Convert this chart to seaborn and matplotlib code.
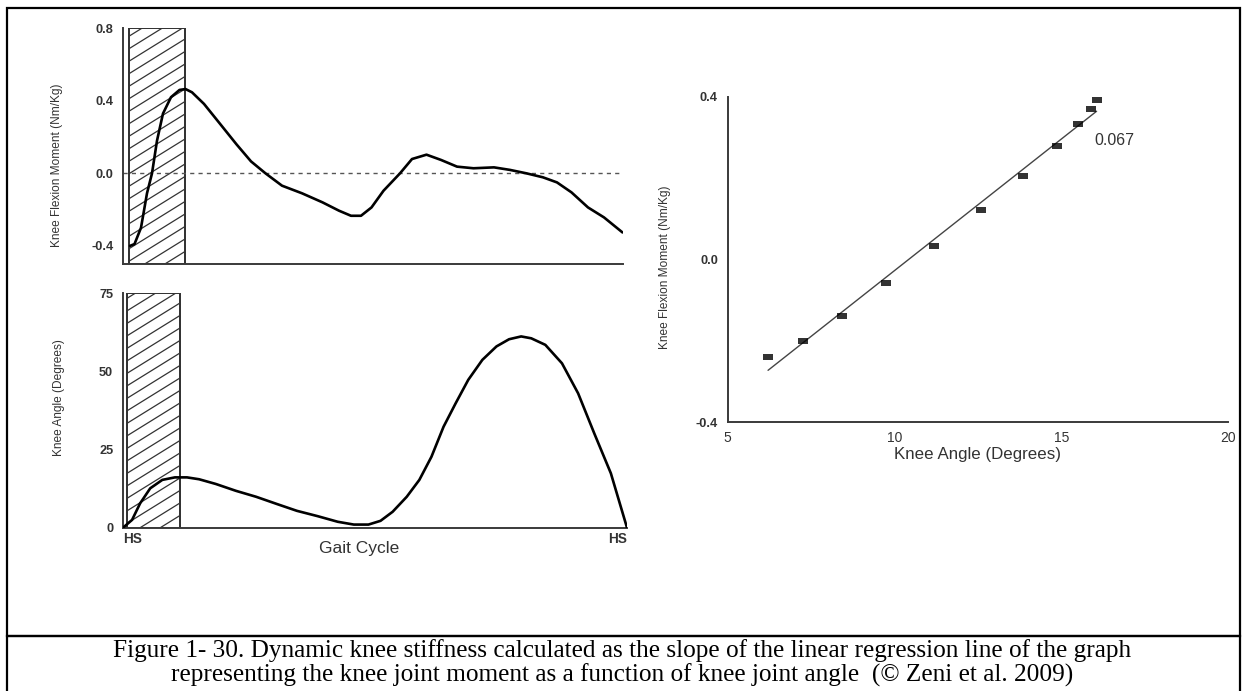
import numpy as np
import pandas as pd
import matplotlib
matplotlib.use("Agg")
import matplotlib.pyplot as plt
import seaborn as sns
from matplotlib.patches import Rectangle
from matplotlib.ticker import MultipleLocator, FixedLocator
from matplotlib.path import Path
from matplotlib.markers import MarkerStyle

# ---------------- data ----------------
moment_gait = [1.4, 2.3, 3.6, 4.8, 5.8, 6.8, 8.0, 9.6, 11.3, 12.5, 13.8, 16.2, 19.5,
               22.7, 25.6, 28.5, 31.8, 35.8, 39.9, 43.2, 45.6, 47.6, 49.7, 52.1,
               55.4, 57.8, 60.7, 63.6, 66.8, 70.1, 74.2, 77.4, 80.7, 84.0, 86.8,
               89.7, 93.0, 96.2, 99.9]
moment_val = [-0.40, -0.39, -0.30, -0.11, 0.00, 0.18, 0.33, 0.42, 0.46, 0.465, 0.447,
              0.383, 0.27, 0.16, 0.066, 0.00, -0.068, -0.11, -0.16, -0.206, -0.234,
              -0.234, -0.188, -0.096, 0.00, 0.079, 0.103, 0.074, 0.037, 0.028, 0.033,
              0.019, 0.00, -0.022, -0.05, -0.105, -0.188, -0.243, -0.326]

angle_gait = [0.0, 1.8, 3.4, 5.4, 7.8, 10.3, 12.7, 15.1, 18.4, 22.4, 26.4, 30.5, 34.5,
              38.6, 42.6, 45.8, 48.7, 51.1, 53.5, 56.3, 58.8, 61.2, 63.6, 66.0, 68.5,
              71.3, 74.1, 76.6, 79.0, 81.0, 83.8, 87.1, 90.3, 93.5, 96.8, 100.0]
angle_val = [0.0, 2.5, 7.8, 12.6, 15.3, 16.1, 16.1, 15.5, 14.0, 11.8, 9.9, 7.6, 5.4,
             3.7, 1.9, 1.0, 1.0, 2.2, 5.1, 9.9, 15.3, 22.7, 32.3, 39.8, 47.3, 53.7,
             58.0, 60.3, 61.2, 60.6, 58.5, 52.6, 43.0, 30.2, 17.4, 0.0]

stance_top = (1.2, 12.4)
stance_bottom = (0.8, 11.4)

scatter_angle = [6.21, 7.27, 8.44, 9.75, 11.19, 12.59, 13.86, 14.86, 15.50, 15.90, 16.06]
scatter_moment = [-0.24, -0.20, -0.138, -0.058, 0.033, 0.122, 0.206, 0.278, 0.332, 0.369, 0.393]
slope_label = "0.067"

moment_ticks = [-0.4, 0.0, 0.4, 0.8]
moment_ticklabels = ["-0.4", "0.0", "0.4", "0.8"]
angle_ticks = [0, 25, 50, 75]
angle_ticklabels = ["0", "25", "50", "75"]
gait_ticklabels = ["HS", "HS"]
scat_yticks = [-0.4, 0.0, 0.4]
scat_yticklabels = ["-0.4", "0.0", "0.4"]
scat_xticks = [5, 10, 15, 20]
scat_xticklabels = ["5", "10", "15", "20"]

caption_lines = [
    "Figure 1- 30. Dynamic knee stiffness calculated as the slope of the linear regression line of the graph",
    "representing the knee joint moment as a function of knee joint angle  (\u00a9 Zeni et al. 2009)",
]

# ---------------- style ----------------
sns.set_style("white")
plt.rcParams["font.family"] = ["Liberation Sans", "DejaVu Sans"]
plt.rcParams["axes.unicode_minus"] = False

W, H = 1245, 691
fig = plt.figure(figsize=(W / 100, H / 100), dpi=100)
fig.patch.set_facecolor("white")


def px_axes(l, t, r, b):
    return fig.add_axes([l / W, 1 - b / H, (r - l) / W, (b - t) / H])


SPINE = "#3a3a3a"
TXT = "#333333"


def style_axes(ax):
    for s in ["top", "right"]:
        ax.spines[s].set_visible(False)
    for s in ["left", "bottom"]:
        ax.spines[s].set_color(SPINE)
        ax.spines[s].set_linewidth(1.4)
    ax.tick_params(which="major", direction="out", length=5, width=1.0,
                   color=SPINE, labelcolor=TXT, labelsize=9.2, pad=2)
    ax.tick_params(which="minor", direction="out", length=2.5, width=1.0, color=SPINE)
    ax.set_facecolor("white")


def hatch_span(ax, x0, x1, spacing=12.5, slope=0.62, color="#333333"):
    y0, y1 = ax.get_ylim()
    rect = Rectangle((x0, y0), x1 - x0, y1 - y0, facecolor="white",
                     edgecolor=color, lw=1.3, zorder=1)
    ax.add_patch(rect)
    p0 = ax.transData.transform((x0, y0))
    p1 = ax.transData.transform((x1, y1))
    w = p1[0] - p0[0]
    for o in np.arange(p0[1] - slope * w, p1[1] + spacing, spacing):
        xs = np.array([p0[0], p1[0]])
        ys = o + slope * (xs - p0[0])
        pts = ax.transData.inverted().transform(np.column_stack([xs, ys]))
        ln, = ax.plot(pts[:, 0], pts[:, 1], color=color, lw=0.9, zorder=1.5)
        ln.set_clip_path(rect)
    ax.add_patch(Rectangle((x0, y0), x1 - x0, y1 - y0, facecolor="none",
                           edgecolor=color, lw=1.3, zorder=1.6))


# ---------------- top-left: knee flexion moment ----------------
ax1 = px_axes(123, 28.3, 623, 264)
style_axes(ax1)
ax1.set_xlim(0, 100)
ax1.set_ylim(-0.5, 0.8)
ax1.set_xticks([])
ax1.set_yticks(moment_ticks, moment_ticklabels)
ax1.yaxis.set_minor_locator(FixedLocator([-0.2, 0.2, 0.6]))
hatch_span(ax1, *stance_top)
ax1.axhline(0, color="#555555", lw=1.0, ls=(0, (3, 3)), zorder=2)
sns.lineplot(x=moment_gait, y=moment_val, ax=ax1, color="black", lw=1.9, zorder=3)
ax1.set_ylabel("Knee Flexion Moment (Nm/Kg)", fontsize=8.6, color=TXT)
ax1.yaxis.label.set_va("center")
ax1.yaxis.set_label_coords(-0.132, 0.418)

# ---------------- bottom-left: knee angle ----------------
ax2 = px_axes(123, 293.3, 627, 527.7)
style_axes(ax2)
ax2.set_xlim(0, 100)
ax2.set_ylim(0, 75)
ax2.set_yticks(angle_ticks, angle_ticklabels)
ax2.yaxis.set_minor_locator(FixedLocator([12.5, 37.5, 62.5]))
ax2.set_xticks([0, 100], gait_ticklabels)
ax2.tick_params(axis="x", which="major", length=0, pad=3, labelsize=9.8)
xl = ax2.get_xticklabels()
xl[0].set_ha("left")
xl[1].set_ha("right")
hatch_span(ax2, *stance_bottom)
sns.lineplot(x=angle_gait, y=angle_val, ax=ax2, color="black", lw=1.9, zorder=3)
ax2.set_ylabel("Knee Angle (Degrees)", fontsize=8.6, color=TXT)
ax2.yaxis.label.set_va("center")
ax2.yaxis.set_label_coords(-0.127, 0.555)
ax2.set_xlabel("Gait Cycle", fontsize=12.5, color=TXT)
ax2.xaxis.label.set_va("center")
ax2.xaxis.set_label_coords(0.468, -0.09)

for ax in (ax1, ax2):
    for lbl in ax.get_yticklabels() + ax.get_xticklabels():
        lbl.set_fontweight("bold")

# ---------------- right: regression ----------------
ax3 = px_axes(727.7, 96.7, 1228, 422.3)
style_axes(ax3)
box = MarkerStyle(Path([(-1, -0.55), (1, -0.55), (1, 0.55), (-1, 0.55), (-1, -0.55)],
                       [Path.MOVETO, Path.LINETO, Path.LINETO, Path.LINETO, Path.CLOSEPOLY]))
sns.regplot(x=scatter_angle, y=scatter_moment, ax=ax3, ci=None, marker=box,
            scatter_kws=dict(s=50, color="black", linewidths=0, zorder=3),
            line_kws=dict(color="#444444", lw=1.0, zorder=2))
ax3.set_xlim(5, 20)
ax3.set_ylim(-0.4, 0.4)
ax3.set_yticks(scat_yticks, scat_yticklabels)
ax3.set_xticks(scat_xticks, scat_xticklabels)
ax3.yaxis.set_minor_locator(MultipleLocator(0.2))
ax3.xaxis.set_minor_locator(MultipleLocator(2.5))
for lbl in ax3.get_yticklabels():
    lbl.set_fontweight("bold")
ax3.tick_params(axis="x", labelsize=10, pad=1)
ax3.text(16.0, 0.293, slope_label, ha="left", va="center", fontsize=11.5, color=TXT)
ax3.set_ylabel("Knee Flexion Moment (Nm/Kg)", fontsize=8.6, color=TXT)
ax3.yaxis.label.set_va("center")
ax3.yaxis.set_label_coords(-0.125, 0.475)
ax3.set_xlabel("Knee Angle (Degrees)", fontsize=12.2, color=TXT)
ax3.xaxis.label.set_va("center")
ax3.xaxis.set_label_coords(0.5, -0.1)

# ---------------- frame and caption ----------------
fig.add_artist(Rectangle((7 / W, 1 - 636 / H), (1240 - 7) / W, (636 - 8) / H,
                         transform=fig.transFigure, facecolor="none",
                         edgecolor="black", lw=1.6))
fig.add_artist(Rectangle((7 / W, -0.05), (1240 - 7) / W, 0.05 + 1 - 636 / H,
                         transform=fig.transFigure, facecolor="none",
                         edgecolor="black", lw=1.6))
for i, line in enumerate(caption_lines):
    fig.text(0.5, 1 - (651 + 24.5 * i) / H, line, ha="center", va="center",
             fontsize=18.2, family=["Liberation Serif", "DejaVu Serif"], color="black")

fig.savefig("out.png", dpi=100, facecolor="white")
